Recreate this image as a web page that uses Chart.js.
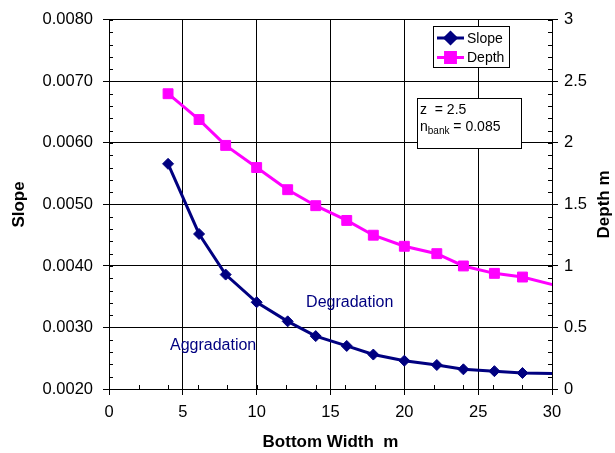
<!DOCTYPE html>
<html>
<head>
<meta charset="utf-8">
<script src="https://cdn.jsdelivr.net/npm/chart.js@4.4.1/dist/chart.umd.min.js"></script>
<style>
  html, body { margin: 0; padding: 0; background: #fff; }
  #wrap { width: 615px; height: 453px; }
</style>
</head>
<body>
<div id="wrap"><canvas id="slope-chart" width="615" height="453"></canvas></div>
<script>
/*------------------------ DATA ---------------------------------*/

const bottomWidth = [4, 6.1, 7.9, 10, 12.1, 14, 16.1, 17.9, 20, 22.2, 24, 26.1, 28, 32]
const slopeValues = [0.00566, 0.00452, 0.00386, 0.00341, 0.00310, 0.00286, 0.00270, 0.00256, 0.00246, 0.00239, 0.00232, 0.00229, 0.00226, 0.00224]
const depthValues = [2.40, 2.19, 1.98, 1.80, 1.62, 1.49, 1.37, 1.25, 1.16, 1.10, 1.00, 0.94, 0.91, 0.79]

const seriesNames = ['Slope', 'Depth']
const axisTitles = { x: 'Bottom Width  m', y: 'Slope', y2: 'Depth m' }
const regionLabels = [
    { text: 'Degradation', x: 16.3, y: 0.00341 },
    { text: 'Aggradation', x: 7.05, y: 0.00271 }
]

/*------------------------ CHART ---------------------------------*/

const FONT = "'Liberation Sans', Arial, sans-serif"
const NAVY = '#000080'
const MAGENTA = '#ff00ff'

const toPoints = (vals) => vals.map((v, i) => ({ x: bottomWidth[i], y: v }))

// fixed plot box like the excel original
const fixWidth = (w) => (scale) => { scale.width = w }
const fixHeight = (h) => (scale) => { scale.height = h }

const minorTicks = {
    id: 'minorTicks',
    afterDatasetsDraw(chart) {
        const { ctx, chartArea, scales } = chart
        ctx.save()
        ctx.strokeStyle = '#000'
        ctx.lineWidth = 1
        ctx.beginPath()
        for (let v = 0.002; v <= 0.00801; v += 0.0002) {
            const y = Math.round(scales.y.getPixelForValue(v)) + 0.5
            ctx.moveTo(chartArea.left, y); ctx.lineTo(chartArea.left + 4, y)
        }
        for (let v = 0; v <= 3.001; v += 0.1) {
            const y = Math.round(scales.y2.getPixelForValue(v)) + 0.5
            ctx.moveTo(chartArea.right, y); ctx.lineTo(chartArea.right - 4, y)
        }
        for (let v = 0; v <= 30; v += 2) {
            const x = Math.round(scales.x.getPixelForValue(v)) + 0.5
            ctx.moveTo(x, chartArea.bottom); ctx.lineTo(x, chartArea.bottom - 4)
        }
        ctx.stroke()
        ctx.restore()
    }
}

const titlesAndNotes = {
    id: 'titlesAndNotes',
    afterDraw(chart) {
        const { ctx, chartArea, scales } = chart
        const midY = (chartArea.top + chartArea.bottom) / 2
        const midX = (chartArea.left + chartArea.right) / 2
        ctx.save()
        ctx.fillStyle = '#000'
        ctx.textAlign = 'center'
        ctx.textBaseline = 'middle'
        ctx.font = 'bold 17px ' + FONT
        ctx.fillText(axisTitles.x, midX, 442)

        ctx.save()
        ctx.translate(19, midY)
        ctx.rotate(-Math.PI / 2)
        ctx.fillText(axisTitles.y, 0, 0)
        ctx.restore()

        ctx.save()
        ctx.translate(604, midY)
        ctx.rotate(-Math.PI / 2)
        ctx.fillText(axisTitles.y2, 0, 0)
        ctx.restore()

        // region labels
        ctx.fillStyle = NAVY
        ctx.font = '16px ' + FONT
        regionLabels.forEach(l => {
            ctx.fillText(l.text, scales.x.getPixelForValue(l.x), scales.y.getPixelForValue(l.y))
        })

        // legend box
        ctx.fillStyle = '#fff'
        ctx.strokeStyle = '#000'
        ctx.lineWidth = 1
        ctx.fillRect(433.5, 26.5, 76, 41)
        ctx.strokeRect(433.5, 26.5, 76, 41)
        ctx.font = '14px ' + FONT
        ctx.textAlign = 'left'
        chart.data.datasets.forEach((ds, i) => {
            const y = 38 + i * 19.5
            ctx.strokeStyle = ds.borderColor
            ctx.lineWidth = 3
            ctx.beginPath(); ctx.moveTo(437, y); ctx.lineTo(464, y); ctx.stroke()
            ctx.fillStyle = ds.pointBackgroundColor
            ctx.strokeStyle = ds.borderColor
            Chart.helpers.drawPoint(ctx, { pointStyle: ds.pointStyle, radius: ds.pointRadius, rotation: 0, borderWidth: 1 }, 450.5, y)
            ctx.fillStyle = '#000'
            ctx.fillText(ds.label, 467, y + 1)
        })

        // parameter box
        ctx.fillStyle = '#fff'
        ctx.strokeStyle = '#000'
        ctx.lineWidth = 1
        ctx.fillRect(417.5, 98.5, 104, 50)
        ctx.strokeRect(417.5, 98.5, 104, 50)
        ctx.fillStyle = '#000'
        ctx.textBaseline = 'alphabetic'
        ctx.font = '14px ' + FONT
        ctx.fillText('z  = 2.5', 420, 114)
        ctx.fillText('n', 420, 131)
        let w = ctx.measureText('n').width
        ctx.font = '10px ' + FONT
        ctx.fillText('bank', 420 + w, 134)
        w += ctx.measureText('bank').width
        ctx.font = '14px ' + FONT
        ctx.fillText(' = 0.085', 420 + w, 131)
        ctx.restore()
    }
}

const ctx = document.querySelector('#slope-chart').getContext('2d')

const chartData = {
    datasets: [{
        label: seriesNames[0],
        data: toPoints(slopeValues),
        yAxisID: 'y',
        borderColor: NAVY,
        backgroundColor: NAVY,
        pointBackgroundColor: NAVY,
        borderWidth: 3,
        pointStyle: 'rectRot',
        pointRadius: 5.5,
        pointBorderWidth: 1,
        tension: 0
    }, {
        label: seriesNames[1],
        data: toPoints(depthValues),
        yAxisID: 'y2',
        borderColor: MAGENTA,
        backgroundColor: MAGENTA,
        pointBackgroundColor: MAGENTA,
        borderWidth: 3,
        pointStyle: 'rect',
        pointRadius: 7,
        pointBorderWidth: 1,
        tension: 0
    }]
}

const tickFont = { family: FONT, size: 16.5 }

const chart = new Chart(ctx, {
    type: 'line',
    data: chartData,
    plugins: [minorTicks, titlesAndNotes],
    options: {
        responsive: false,
        animation: false,
        layout: { padding: { top: 18, left: 0, right: 0, bottom: 0 } },
        plugins: {
            legend: { display: false },
            tooltip: { enabled: false }
        },
        scales: {
            x: {
                type: 'linear',
                min: 0,
                max: 30,
                afterFit: fixHeight(64),
                ticks: { stepSize: 5, color: '#000', font: tickFont, padding: 8, maxRotation: 0 },
                grid: { color: '#000', tickLength: 6 },
                border: { color: '#000', width: 1 }
            },
            y: {
                position: 'left',
                min: 0.002,
                max: 0.008,
                afterFit: fixWidth(109),
                ticks: { stepSize: 0.001, color: '#000', font: tickFont, padding: 10, callback: (v) => v.toFixed(4) },
                grid: { color: '#000', tickLength: 6 },
                border: { color: '#000', width: 1 }
            },
            y2: {
                position: 'right',
                min: 0,
                max: 3,
                afterFit: fixWidth(63),
                ticks: { stepSize: 0.5, color: '#000', font: tickFont, padding: 6, callback: (v) => String(+v.toFixed(1)) },
                grid: { drawOnChartArea: false, color: '#000', tickLength: 6 },
                border: { color: '#000', width: 1 }
            }
        }
    }
})
</script>
</body>
</html>
